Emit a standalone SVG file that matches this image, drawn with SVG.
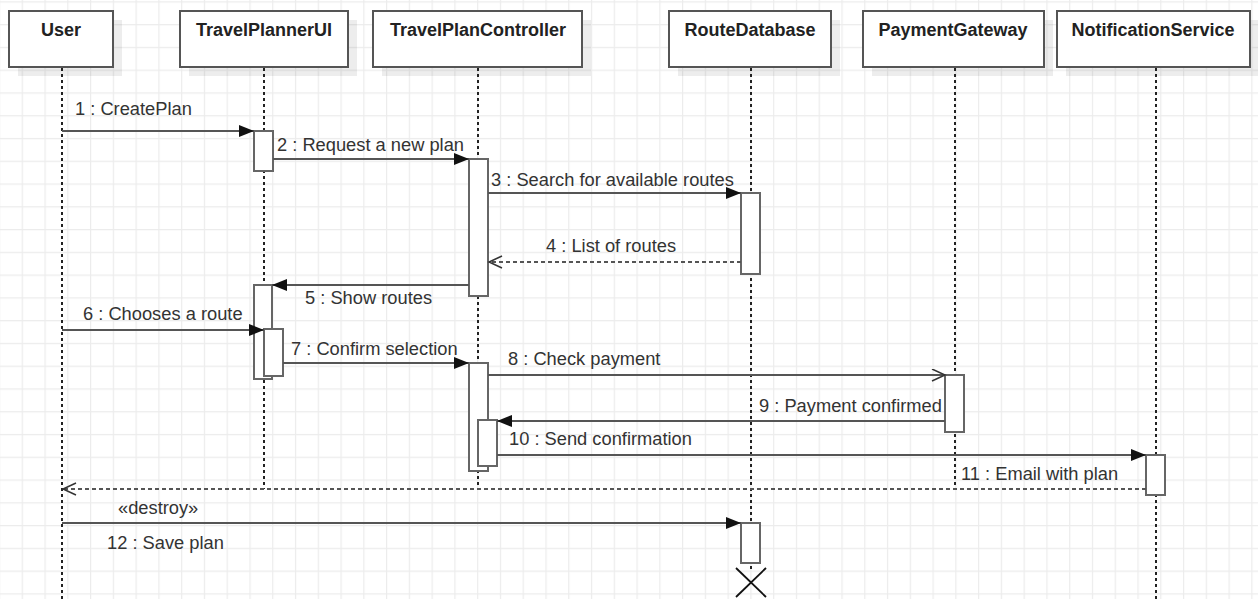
<svg xmlns="http://www.w3.org/2000/svg" width="1258" height="599" viewBox="0 0 1258 599">
  <style>
    .head { fill: #ffffff; stroke: #555555; stroke-width: 2; }
    .shadow { fill: #000000; fill-opacity: 0.07; }
    .title { font-family: "Liberation Sans", Arial, sans-serif; font-size: 18px; font-weight: bold; fill: #222222; text-anchor: middle; }
    .life { stroke: #222222; stroke-width: 2; stroke-dasharray: 3 3; fill: none; }
    .act { fill: #ffffff; stroke: #666666; stroke-width: 2; }
    .msg { stroke: #555555; stroke-width: 2; fill: none; }
    .call { marker-end: url(#filled); }
    .async { marker-end: url(#open); }
    .ret { stroke-dasharray: 4 3; marker-end: url(#open); }
    .lbl { font-family: "Liberation Sans", Arial, sans-serif; font-size: 18.3px; fill: #333333; }
    .cross { stroke: #111111; stroke-width: 1.8; }
  </style>
  <defs>
    <pattern id="grid" x="21.7" y="1.3" width="22.77" height="22.77" patternUnits="userSpaceOnUse">
      <path d="M0.5 0 V22.77 M0 0.5 H22.77" stroke="#ececec" stroke-width="1.4" fill="none"/>
    </pattern>
    <marker id="filled" markerUnits="userSpaceOnUse" markerWidth="16" markerHeight="13" refX="15" refY="6" orient="auto">
      <path d="M0 0 L15 6 L0 12 Z" fill="#111111"/>
    </marker>
    <marker id="open" markerUnits="userSpaceOnUse" markerWidth="16" markerHeight="14" refX="14" refY="6.5" orient="auto">
      <path d="M1 0.5 L14 6.5 L1 12.5" fill="none" stroke="#333333" stroke-width="1.5"/>
    </marker>
  </defs>

  <!-- canvas background with light grid -->
  <rect width="1258" height="599" fill="#ffffff"/>
  <rect width="1258" height="599" fill="url(#grid)"/>

  <!-- participants -->
  <g id="user">
    <rect class="shadow" x="18" y="20" width="104" height="56"/>
    <rect class="head" x="9" y="11" width="104" height="56"/>
    <text class="title" x="61" y="36">User</text>
    <line class="life" x1="62" y1="68" x2="62" y2="599"/>
  </g>

  <g id="travel-planner-ui">
    <rect class="shadow" x="189" y="20" width="168" height="56"/>
    <rect class="head" x="180" y="11" width="168" height="56"/>
    <text class="title" x="264" y="36">TravelPlannerUI</text>
    <line class="life" x1="264" y1="68" x2="264" y2="489"/>
    <rect class="act" x="254" y="131" width="19" height="40"/>
    <rect class="act" x="254" y="285" width="18" height="94"/>
    <rect class="act" x="264" y="329" width="19" height="47"/>
  </g>

  <g id="travel-plan-controller">
    <rect class="shadow" x="382" y="20" width="209" height="56"/>
    <rect class="head" x="373" y="11" width="209" height="56"/>
    <text class="title" x="478" y="36">TravelPlanController</text>
    <line class="life" x1="478" y1="68" x2="478" y2="489"/>
    <rect class="act" x="469" y="159" width="19" height="137"/>
    <rect class="act" x="469" y="363" width="19" height="108"/>
    <rect class="act" x="478" y="420" width="19" height="46"/>
  </g>

  <g id="route-database">
    <rect class="shadow" x="678" y="20" width="162" height="56"/>
    <rect class="head" x="669" y="11" width="162" height="56"/>
    <text class="title" x="750" y="36">RouteDatabase</text>
    <line class="life" x1="751" y1="68" x2="751" y2="570"/>
    <rect class="act" x="741" y="193" width="19" height="81"/>
    <rect class="act" x="741" y="523" width="19" height="40"/>
    <line class="cross" x1="736" y1="568" x2="766" y2="597"/>
    <line class="cross" x1="766" y1="568" x2="736" y2="597"/>
  </g>

  <g id="payment-gateway">
    <rect class="shadow" x="872" y="20" width="181" height="56"/>
    <rect class="head" x="863" y="11" width="181" height="56"/>
    <text class="title" x="953" y="36">PaymentGateway</text>
    <line class="life" x1="955" y1="68" x2="955" y2="489"/>
    <rect class="act" x="945" y="375" width="19" height="57"/>
  </g>

  <g id="notification-service">
    <rect class="shadow" x="1066" y="20" width="193" height="56"/>
    <rect class="head" x="1057" y="11" width="193" height="56"/>
    <text class="title" x="1153" y="36">NotificationService</text>
    <line class="life" x1="1156" y1="68" x2="1156" y2="599"/>
    <rect class="act" x="1146" y="455" width="19" height="40"/>
  </g>

  <!-- messages -->
  <g id="messages">
    <line class="msg call" x1="62" y1="131" x2="254" y2="131"/>
    <text class="lbl" x="75" y="115">1 : CreatePlan</text>

    <line class="msg call" x1="273" y1="159" x2="469" y2="159"/>
    <text class="lbl" x="277" y="151">2 : Request a new plan</text>

    <line class="msg call" x1="488" y1="193" x2="741" y2="193"/>
    <text class="lbl" x="491" y="186">3 : Search for available routes</text>

    <line class="msg ret" x1="741" y1="262" x2="489" y2="262"/>
    <text class="lbl" x="546" y="252">4 : List of routes</text>

    <line class="msg call" x1="469" y1="285" x2="272" y2="285"/>
    <text class="lbl" x="305" y="304">5 : Show routes</text>

    <line class="msg call" x1="62" y1="330" x2="264" y2="330"/>
    <text class="lbl" x="83" y="320">6 : Chooses a route</text>

    <line class="msg call" x1="283" y1="363" x2="469" y2="363"/>
    <text class="lbl" x="291" y="355">7 : Confirm selection</text>

    <line class="msg async" x1="488" y1="375" x2="945" y2="375"/>
    <text class="lbl" x="508" y="365">8 : Check payment</text>

    <line class="msg call" x1="945" y1="421" x2="497" y2="421"/>
    <text class="lbl" x="759" y="412">9 : Payment confirmed</text>

    <line class="msg call" x1="497" y1="455" x2="1146" y2="455"/>
    <text class="lbl" x="509" y="445">10 : Send confirmation</text>

    <line class="msg ret" x1="1146" y1="489" x2="63" y2="489"/>
    <text class="lbl" x="961" y="480">11 : Email with plan</text>

    <line class="msg call" x1="62" y1="523" x2="741" y2="523"/>
    <text class="lbl" x="118" y="514">«destroy»</text>
    <text class="lbl" x="107" y="549">12 : Save plan</text>
  </g>
</svg>
